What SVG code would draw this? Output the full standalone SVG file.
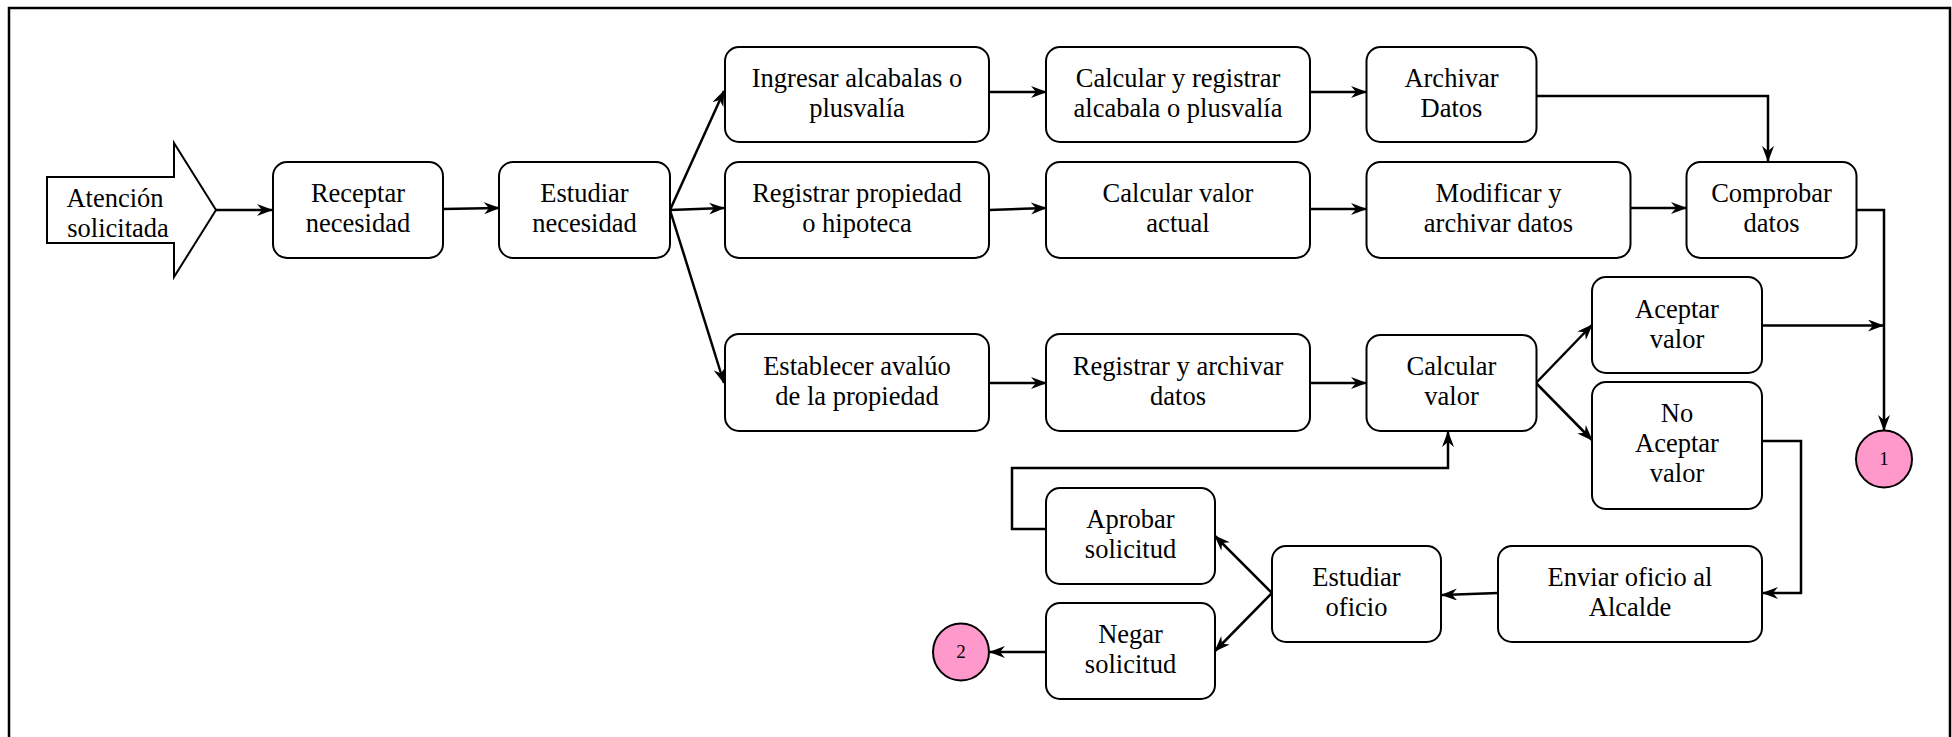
<svg xmlns="http://www.w3.org/2000/svg" width="1952" height="737" viewBox="0 0 1952 737">
  <style>
    .box { fill: #ffffff; stroke: #000000; stroke-width: 2; }
    .lbl { font-family: "Liberation Serif", "Times New Roman", serif; font-size: 26.5px; fill: #000000; text-anchor: middle; }
    .num { font-family: "Liberation Serif", "Times New Roman", serif; font-size: 19px; fill: #000000; text-anchor: middle; }
    .conn { fill: none; stroke: #000000; stroke-width: 2.5; marker-end: url(#head); }
    .endpt { fill: #ff99cc; stroke: #000000; stroke-width: 2; }
  </style>
  <defs>
    <marker id="head" markerUnits="userSpaceOnUse" markerWidth="16" markerHeight="12" refX="15" refY="6" orient="auto">
      <path d="M0,0 L16,6 L0,12 L5,6 z" fill="#000000"/>
    </marker>
  </defs>

  <rect width="1952" height="737" fill="#ffffff"/>
  <!-- frame (open at the bottom edge) -->
  <path d="M9,745 L9,8 L1950,8 L1950,745" fill="none" stroke="#000000" stroke-width="2.5"/>

  <g id="connectors">
    <path class="conn" d="M216,210 L272,210"/>
    <path class="conn" d="M443,209 L499,208"/>
    <path class="conn" d="M670,210 L724,91"/>
    <path class="conn" d="M670,210 L724,208"/>
    <path class="conn" d="M670,210 L724,383"/>
    <path class="conn" d="M989,92 L1046,92"/>
    <path class="conn" d="M989,210 L1046,208"/>
    <path class="conn" d="M989,383 L1046,383"/>
    <path class="conn" d="M1310,92 L1366,92"/>
    <path class="conn" d="M1310,209 L1366,209"/>
    <path class="conn" d="M1310,383 L1366,383"/>
    <path class="conn" d="M1536,96 L1768,96 L1768,161"/>
    <path class="conn" d="M1630,208 L1686,208"/>
    <path class="conn" d="M1856,210 L1884,210 L1884,430"/>
    <path class="conn" d="M1762,325.5 L1883,325.5"/>
    <path class="conn" d="M1536,383 L1592,325"/>
    <path class="conn" d="M1536,383 L1592,440"/>
    <path class="conn" d="M1762,441 L1801,441 L1801,593 L1763,593"/>
    <path class="conn" d="M1498,593 L1442,595"/>
    <path class="conn" d="M1272,593 L1215,536"/>
    <path class="conn" d="M1272,593 L1215,651"/>
    <path class="conn" d="M1046,652 L990,652"/>
    <path class="conn" d="M1046,529 L1012,529 L1012,468 L1448,468 L1448,432"/>
  </g>

  <g id="atencion">
    <path class="box" d="M47,177 L174,177 L174,143 L216,210 L174,277 L174,243 L47,243 Z"/>
    <text class="lbl" x="115" y="207">Atención</text>
    <text class="lbl" x="118" y="237">solicitada</text>
  </g>

  <g id="receptar">
    <rect class="box" x="273" y="162" width="170" height="96" rx="14"/>
    <text class="lbl" x="358" y="202">Receptar</text>
    <text class="lbl" x="358" y="232">necesidad</text>
  </g>

  <g id="estudiar-necesidad">
    <rect class="box" x="499" y="162" width="171" height="96" rx="14"/>
    <text class="lbl" x="584.5" y="202">Estudiar</text>
    <text class="lbl" x="584.5" y="232">necesidad</text>
  </g>

  <g id="ingresar">
    <rect class="box" x="725" y="47" width="264" height="95" rx="14"/>
    <text class="lbl" x="857" y="87">Ingresar alcabalas o</text>
    <text class="lbl" x="857" y="117">plusvalía</text>
  </g>

  <g id="registrar-propiedad">
    <rect class="box" x="725" y="162" width="264" height="96" rx="14"/>
    <text class="lbl" x="857" y="202">Registrar propiedad</text>
    <text class="lbl" x="857" y="232">o hipoteca</text>
  </g>

  <g id="establecer">
    <rect class="box" x="725" y="334" width="264" height="97" rx="14"/>
    <text class="lbl" x="857" y="375">Establecer avalúo</text>
    <text class="lbl" x="857" y="405">de la propiedad</text>
  </g>

  <g id="calcular-registrar">
    <rect class="box" x="1046" y="47" width="264" height="95" rx="14"/>
    <text class="lbl" x="1178" y="87">Calcular y registrar</text>
    <text class="lbl" x="1178" y="117">alcabala o plusvalía</text>
  </g>

  <g id="calcular-actual">
    <rect class="box" x="1046" y="162" width="264" height="96" rx="14"/>
    <text class="lbl" x="1178" y="202">Calcular valor</text>
    <text class="lbl" x="1178" y="232">actual</text>
  </g>

  <g id="registrar-archivar">
    <rect class="box" x="1046" y="334" width="264" height="97" rx="14"/>
    <text class="lbl" x="1178" y="375">Registrar y archivar</text>
    <text class="lbl" x="1178" y="405">datos</text>
  </g>

  <g id="archivar">
    <rect class="box" x="1366.5" y="47" width="170" height="95" rx="14"/>
    <text class="lbl" x="1451.5" y="87">Archivar</text>
    <text class="lbl" x="1451.5" y="117">Datos</text>
  </g>

  <g id="modificar">
    <rect class="box" x="1366.5" y="162" width="264" height="96" rx="14"/>
    <text class="lbl" x="1498.5" y="202">Modificar y</text>
    <text class="lbl" x="1498.5" y="232">archivar datos</text>
  </g>

  <g id="calcular-valor">
    <rect class="box" x="1366.5" y="335" width="170" height="96" rx="14"/>
    <text class="lbl" x="1451.5" y="375">Calcular</text>
    <text class="lbl" x="1451.5" y="405">valor</text>
  </g>

  <g id="comprobar">
    <rect class="box" x="1686.5" y="162" width="170" height="96" rx="14"/>
    <text class="lbl" x="1771.5" y="202">Comprobar</text>
    <text class="lbl" x="1771.5" y="232">datos</text>
  </g>

  <g id="aceptar">
    <rect class="box" x="1592" y="277" width="170" height="96" rx="14"/>
    <text class="lbl" x="1677" y="318">Aceptar</text>
    <text class="lbl" x="1677" y="348">valor</text>
  </g>

  <g id="no-aceptar">
    <rect class="box" x="1592" y="382" width="170" height="127" rx="14"/>
    <text class="lbl" x="1677" y="422">No</text>
    <text class="lbl" x="1677" y="452">Aceptar</text>
    <text class="lbl" x="1677" y="482">valor</text>
  </g>

  <g id="enviar">
    <rect class="box" x="1498" y="546" width="264" height="96" rx="14"/>
    <text class="lbl" x="1630" y="586">Enviar oficio al</text>
    <text class="lbl" x="1630" y="616">Alcalde</text>
  </g>

  <g id="estudiar-oficio">
    <rect class="box" x="1272" y="546" width="169" height="96" rx="14"/>
    <text class="lbl" x="1356.5" y="586">Estudiar</text>
    <text class="lbl" x="1356.5" y="616">oficio</text>
  </g>

  <g id="aprobar">
    <rect class="box" x="1046" y="488" width="169" height="96" rx="14"/>
    <text class="lbl" x="1130.5" y="528">Aprobar</text>
    <text class="lbl" x="1130.5" y="558">solicitud</text>
  </g>

  <g id="negar">
    <rect class="box" x="1046" y="603" width="169" height="96" rx="14"/>
    <text class="lbl" x="1130.5" y="643">Negar</text>
    <text class="lbl" x="1130.5" y="673">solicitud</text>
  </g>

  <g id="conector-1">
    <ellipse class="endpt" cx="1884" cy="459" rx="28" ry="28.5"/>
    <text class="num" x="1884" y="465">1</text>
  </g>

  <g id="conector-2">
    <ellipse class="endpt" cx="961" cy="652" rx="28" ry="28.5"/>
    <text class="num" x="961" y="658">2</text>
  </g>
</svg>
